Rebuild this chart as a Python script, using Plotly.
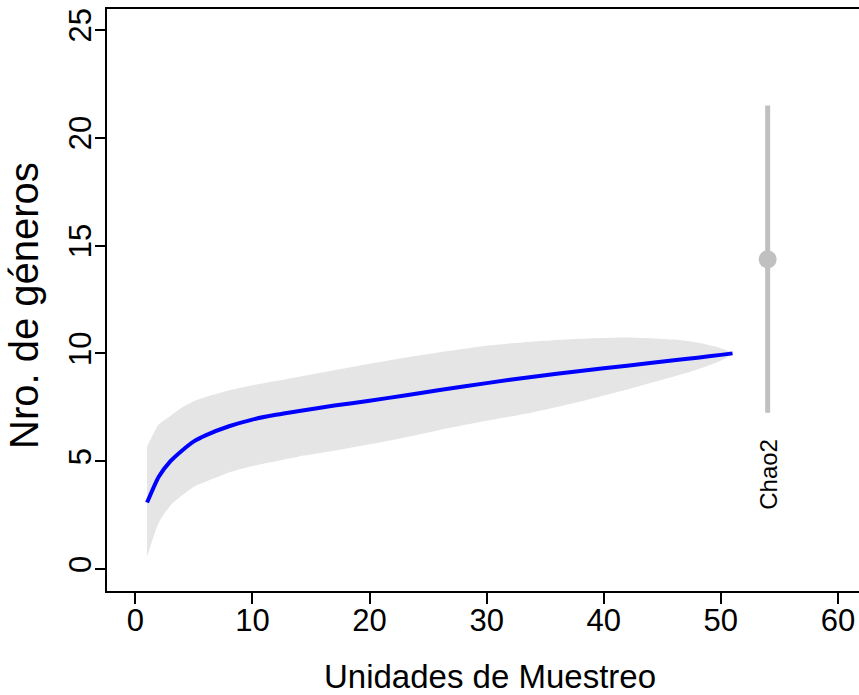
import plotly.graph_objects as go

# Sample-based accumulation curve (genera vs sampling units)
units = [1, 2, 3, 4, 5, 6, 8, 10, 12, 14, 17, 20, 23, 26, 30, 34, 38, 42, 46, 48, 50, 51]
richness = [3.08, 4.28, 5.0, 5.5, 5.92, 6.2, 6.62, 6.93, 7.15, 7.33, 7.58, 7.80, 8.05,
            8.30, 8.62, 8.92, 9.18, 9.43, 9.68, 9.80, 9.93, 10.0]
upper = [5.67, 6.7, 7.1, 7.5, 7.78, 7.98, 8.28, 8.52, 8.72, 8.92, 9.22, 9.52, 9.80,
         10.05, 10.35, 10.55, 10.68, 10.74, 10.64, 10.50, 10.24, 10.02]
lower = [0.57, 2.15, 2.95, 3.42, 3.82, 4.05, 4.48, 4.78, 5.0, 5.22, 5.48, 5.78, 6.1,
         6.45, 6.87, 7.27, 7.77, 8.33, 8.93, 9.25, 9.66, 9.97]

# Chao2 estimate with its confidence interval
chao_x = 54
chao_est = 14.36
chao_low = 7.25
chao_high = 21.5
chao_label = "Chao2"

x_ticks = [0, 10, 20, 30, 40, 50, 60]
y_ticks = [0, 5, 10, 15, 20, 25]

FONT = "Liberation Sans, Arial, Helvetica, sans-serif"

W, H = 859, 695
ML, MR, MT, MB = 107, 0, 9, 104
PW, PH = W - ML - MR, H - MT - MB


def px_x(p):
    return (p - ML) / PW


def px_y(p):
    return (H - MB - p) / PH


fig = go.Figure()

# confidence band
fig.add_trace(go.Scatter(
    x=units + units[::-1],
    y=upper + lower[::-1],
    fill="toself",
    fillcolor="#e5e5e5",
    line=dict(width=0, color="#e5e5e5", shape="spline", smoothing=0.6),
    mode="lines",
    hoverinfo="skip",
    showlegend=False,
))

# accumulation curve
fig.add_trace(go.Scatter(
    x=units, y=richness, mode="lines",
    line=dict(color="#0000ff", width=4, shape="spline", smoothing=0.6),
    showlegend=False,
))

# Chao2 interval and point estimate
fig.add_trace(go.Scatter(
    x=[chao_x, chao_x], y=[chao_low, chao_high], mode="lines",
    line=dict(color="#c0c0c0", width=5),
    showlegend=False,
))
fig.add_trace(go.Scatter(
    x=[chao_x], y=[chao_est], mode="markers",
    marker=dict(color="#c0c0c0", size=18),
    showlegend=False,
))

fig.add_annotation(
    x=chao_x, y=4.4, xref="x", yref="y",
    text=chao_label, textangle=-90, showarrow=False,
    font=dict(family=FONT, size=24, color="black"),
)

# axis titles
fig.add_annotation(
    x=px_x(490), y=px_y(697), xref="paper", yref="paper",
    xanchor="center", yanchor="bottom",
    text="Unidades de Muestreo", showarrow=False,
    font=dict(family=FONT, size=33, color="black"),
)
fig.add_annotation(
    x=px_x(24), y=px_y(306), xref="paper", yref="paper",
    xanchor="center", yanchor="middle", textangle=-90,
    text="Nro. de géneros", showarrow=False,
    font=dict(family=FONT, size=40, color="black"),
)

fig.update_layout(
    width=W, height=H,
    margin=dict(l=ML, r=MR, t=MT, b=MB),
    paper_bgcolor="white", plot_bgcolor="white",
    font=dict(family=FONT, color="black"),
    xaxis=dict(
        range=[-2.42, 61.8],
        tickvals=x_ticks, ticktext=[str(v) for v in x_ticks],
        ticks="outside", ticklen=11, tickwidth=2, tickcolor="black",
        showline=True, linecolor="black", linewidth=2, mirror=True,
        showgrid=False, zeroline=False, ticklabelstandoff=-10,
        tickfont=dict(family=FONT, size=31, color="black"),
    ),
    yaxis=dict(
        range=[-1.02, 25.97],
        tickvals=y_ticks, ticktext=[str(v) for v in y_ticks],
        ticks="outside", ticklen=10, tickwidth=2, tickcolor="black",
        showline=True, linecolor="black", linewidth=2,
        showgrid=False, zeroline=False, tickangle=-90, ticklabelstandoff=-8,
        tickfont=dict(family=FONT, size=31, color="black"),
    ),
)

fig.write_html("out.html")
